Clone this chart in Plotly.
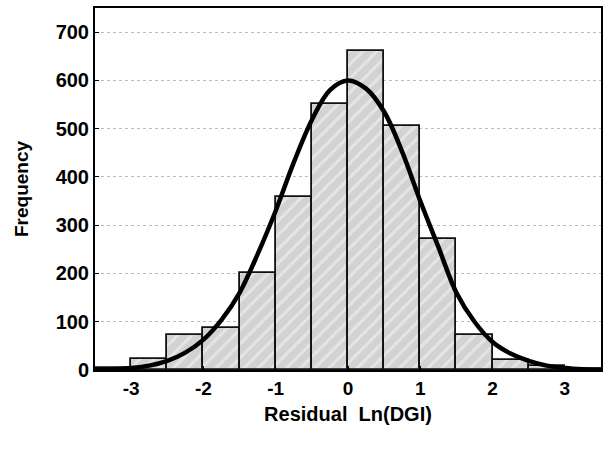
import plotly.graph_objects as go

# Histogram bins (centres) and frequencies
bin_centers = [-3.25, -2.75, -2.25, -1.75, -1.25, -0.75, -0.25, 0.25, 0.75, 1.25, 1.75, 2.25, 2.75, 3.25]
frequencies = [4, 23, 72, 88, 200, 358, 552, 660, 506, 271, 72, 21, 8, 2]

# Fitted curve points
curve_x = [-3.5, -3.25, -3.0, -2.75, -2.5, -2.25, -2.0, -1.75, -1.5, -1.25, -1.0, -0.75,
           -0.5, -0.25, 0.0, 0.25, 0.5, 0.75, 1.0, 1.25, 1.5, 1.75, 2.0, 2.25, 2.5, 2.75,
           3.0, 3.25, 3.5]
curve_y = [0.5, 1.5, 4, 9, 19, 36, 63, 104, 160, 240, 330, 430,
           518, 580, 600, 583, 535, 452, 350, 255, 160, 100, 58, 34, 19, 9,
           4, 1.5, 0.5]

x_ticks = [-3, -2, -1, 0, 1, 2, 3]
y_ticks = [0, 100, 200, 300, 400, 500, 600, 700]

FONT = "Liberation Sans, Arial, sans-serif"

fig = go.Figure()
fig.add_trace(go.Bar(
    x=bin_centers, y=frequencies, width=0.5,
    marker=dict(
        color="#d6d6d6",
        line=dict(color="#111111", width=1.8),
        pattern=dict(shape="/", fgcolor="#f7f7f7", bgcolor="#d2d2d2", size=10, solidity=0.3),
    ),
    showlegend=False,
    hoverinfo="skip",
))
fig.add_trace(go.Scatter(
    x=curve_x, y=curve_y, mode="lines",
    line=dict(color="black", width=4.5, shape="spline"),
    showlegend=False,
    hoverinfo="skip",
))

fig.update_layout(
    width=609, height=449,
    margin=dict(l=95, r=6, t=6, b=79),
    plot_bgcolor="white", paper_bgcolor="white",
    bargap=0,
    font=dict(family=FONT, color="black"),
    xaxis=dict(
        range=[-3.5, 3.5], tickvals=x_ticks, ticktext=[str(v) for v in x_ticks],
        showline=True, mirror=True, linecolor="black", linewidth=2,
        ticks="inside", ticklen=4, tickcolor="black",
        showgrid=False, zeroline=False,
        tickfont=dict(size=19, family=FONT, weight="bold"),
        title=dict(text="Residual  Ln(DGI)", font=dict(size=20, family=FONT, weight="bold"), standoff=9),
    ),
    yaxis=dict(
        range=[0, 750], tickvals=y_ticks,
        showline=True, mirror=True, linecolor="black", linewidth=2,
        ticks="inside", ticklen=4, tickcolor="black",
        showgrid=True, gridcolor="#bdbdbd", griddash="dot", gridwidth=1,
        zeroline=False,
        tickfont=dict(size=20, family=FONT, weight="bold"),
        title=dict(text="Frequency", font=dict(size=19, family=FONT, weight="bold"), standoff=22),
    ),
)

fig.write_html("out.html", config={"displayModeBar": False},
               post_script="document.body.style.margin='0';")
